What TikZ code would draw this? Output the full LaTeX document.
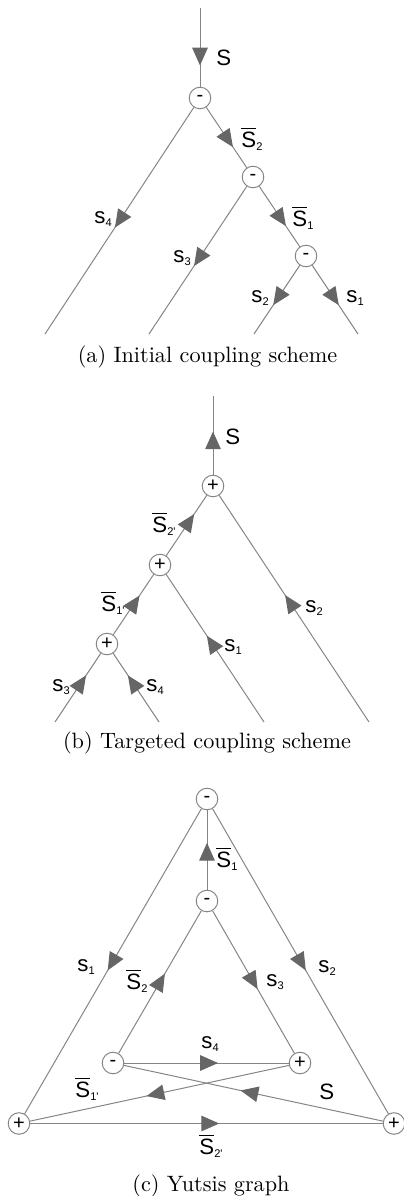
\documentclass[tikz,border=0pt]{standalone}
\usepackage{fontspec}
\usepackage{tikz}
\usetikzlibrary{arrows.meta,decorations.markings}
\newfontfamily\labfont{Liberation Sans}
\definecolor{linegray}{HTML}{858585}
\definecolor{tipgray}{HTML}{666666}
\newcommand{\sbar}{$\overline{\hbox{S}}$}
\newcommand{\ix}[1]{\raisebox{-1.6pt}{\fontsize{5}{5}\selectfont #1}}

\begin{document}
\begin{tikzpicture}[x=0.45pt,y=-0.45pt,
    vtx/.style={circle,draw=linegray,fill=white,line width=0.45pt,minimum size=9.7pt,
      inner sep=0pt,font=\labfont\fontsize{9}{9}\selectfont},
    edge/.style={draw=linegray,line width=0.45pt},
    arr/.style={postaction={decorate,decoration={markings,
      mark=at position #1 with {\arrow[tipgray]{Triangle[length=8pt,width=7pt]}}}}},
    lab/.style={font=\labfont\fontsize{10}{10}\selectfont,inner sep=0pt,anchor=base west},
    captext/.style={font=\normalsize,inner sep=0pt,anchor=base}]
  \useasboundingbox (0,0) rectangle (404,1196);
  % (a) initial coupling scheme
  \coordinate (aS) at (200,8);
  \node[vtx] (aA) at (200,98) {-};
  \node[vtx] (aB) at (253,177) {-};
  \node[vtx] (aC) at (306,256) {-};
  \coordinate (as4) at (45,334);
  \coordinate (as3) at (149,334);
  \coordinate (as2) at (254,334);
  \coordinate (as1) at (358,334);
  \draw[edge,arr=.73] (aS) -- (aA);
  \draw[edge,arr=.53] (aA) -- (as4);
  \draw[edge,arr=.66] (aA) -- (aB);
  \draw[edge,arr=.54] (aB) -- (as3);
  \draw[edge,arr=.66] (aB) -- (aC);
  \draw[edge,arr=.58] (aC) -- (as2);
  \draw[edge,arr=.58] (aC) -- (as1);
  \node[lab] (laS) at (216,65) {S};
  \node[lab] (laS2) at (241,147) {\sbar\ix{2}};
  \node[lab] (las4) at (94,223) {s\ix{4}};
  \node[lab] (laS1) at (292,226) {\sbar\ix{1}};
  \node[lab] (las3) at (173,262) {s\ix{3}};
  \node[lab] (las2) at (251,302) {s\ix{2}};
  \node[lab] (las1) at (346,302) {s\ix{1}};
  \node[captext] (capa) at (207.5,362) {(a) Initial coupling scheme};
  % (b) targeted coupling scheme
  \coordinate (bS) at (213,396);
  \node[vtx] (bA) at (213,486) {+};
  \node[vtx] (bB) at (160,565) {+};
  \node[vtx] (bC) at (107,644) {+};
  \coordinate (bs3) at (55,722);
  \coordinate (bs4) at (159,722);
  \coordinate (bs1) at (264,722);
  \coordinate (bs2) at (369,722);
  \draw[edge,arr=.55] (bA) -- (bS);
  \draw[edge,arr=.69] (bB) -- (bA);
  \draw[edge,arr=.65] (bC) -- (bB);
  \draw[edge,arr=.68] (bs3) -- (bC);
  \draw[edge,arr=.68] (bs4) -- (bC);
  \draw[edge,arr=.585] (bs1) -- (bB);
  \draw[edge,arr=.56] (bs2) -- (bA);
  \node[lab] (lbS) at (225,444) {S};
  \node[lab] (lbS2) at (152,532) {\sbar\ix{2'}};
  \node[lab] (lbS1) at (101,611) {\sbar\ix{1'}};
  \node[lab] (lbs3) at (52,691) {s\ix{3}};
  \node[lab] (lbs4) at (146,691) {s\ix{4}};
  \node[lab] (lbs1) at (224,651) {s\ix{1}};
  \node[lab] (lbs2) at (305,612) {s\ix{2}};
  \node[captext] (capb) at (207,748) {(b) Targeted coupling scheme};
  % (c) Yutsis graph
  \node[vtx] (cT) at (207,799) {-};
  \node[vtx] (cI) at (207,901) {-};
  \node[vtx] (cL) at (113,1063) {-};
  \node[vtx] (cR) at (300,1063) {+};
  \node[vtx] (cBL) at (19,1123.5) {+};
  \node[vtx] (cBR) at (394,1123.5) {+};
  \draw[edge,arr=.59] (cI) -- (cT);
  \draw[edge,arr=.53] (cT) -- (cBL);
  \draw[edge,arr=.53] (cT) -- (cBR);
  \draw[edge,arr=.56] (cL) -- (cI);
  \draw[edge,arr=.55] (cI) -- (cR);
  \draw[edge,arr=.57] (cL) -- (cR);
  \draw[edge,arr=.55] (cR) -- (cBL);
  \draw[edge,arr=.55] (cBR) -- (cL);
  \draw[edge,arr=.536] (cBL) -- (cBR);
  \node[lab] (lcS1) at (216,867) {\sbar\ix{1}};
  \node[lab] (lcs1) at (77,971) {s\ix{1}};
  \node[lab] (lcs2) at (318,972) {s\ix{2}};
  \node[lab] (lcS2) at (126,989) {\sbar\ix{2}};
  \node[lab] (lcs3) at (266,986) {s\ix{3}};
  \node[lab] (lcs4) at (201,1048) {s\ix{4}};
  \node[lab] (lcS1p) at (75,1097) {\sbar\ix{1'}};
  \node[lab] (lcS) at (319,1099) {S};
  \node[lab] (lcS2p) at (199,1154) {\sbar\ix{2'}};
  \node[captext] (capc) at (211,1191) {(c) Yutsis graph};
\end{tikzpicture}
\end{document}
